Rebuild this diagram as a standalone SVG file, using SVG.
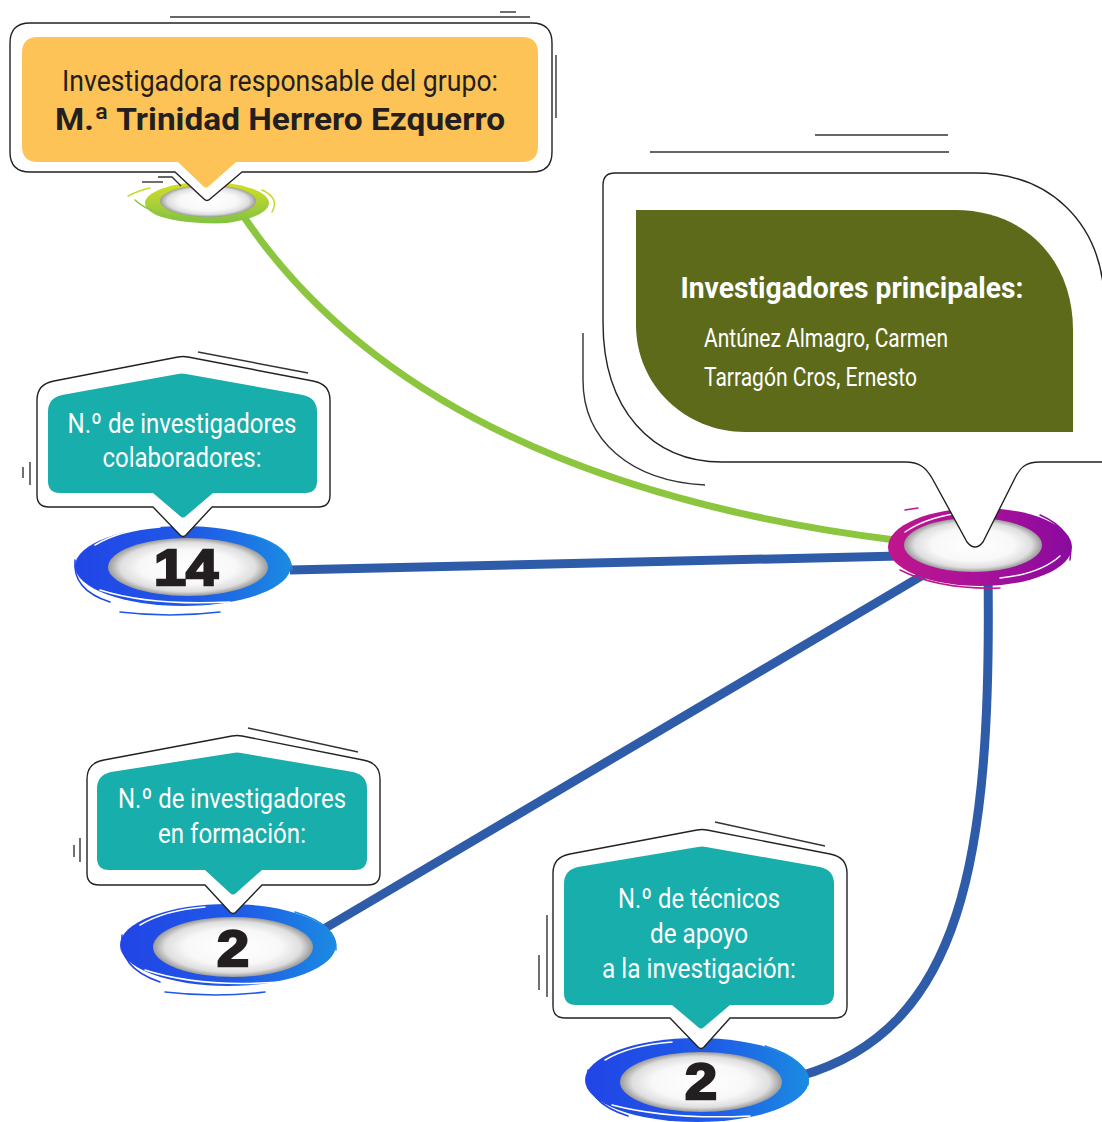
<svg xmlns="http://www.w3.org/2000/svg" width="1102" height="1122" viewBox="0 0 1102 1122">
<defs>
<radialGradient id="inner" cx="50%" cy="50%" r="50%">
<stop offset="0" stop-color="#ffffff"/>
<stop offset="0.6" stop-color="#f8f8f8"/>
<stop offset="0.85" stop-color="#dedede"/>
<stop offset="1" stop-color="#9a9a9a"/>
</radialGradient>
<linearGradient id="blue" x1="0" y1="0" x2="1" y2="0">
<stop offset="0" stop-color="#2145E6"/>
<stop offset="0.55" stop-color="#1F5AE6"/>
<stop offset="1" stop-color="#1B8BE2"/>
</linearGradient>
<linearGradient id="mag" x1="0" y1="0" x2="1" y2="0">
<stop offset="0" stop-color="#C0168C"/>
<stop offset="0.5" stop-color="#A8119A"/>
<stop offset="1" stop-color="#8A0A9E"/>
</linearGradient>
<linearGradient id="grn" x1="0" y1="0" x2="0" y2="1">
<stop offset="0" stop-color="#D6DF24"/>
<stop offset="0.6" stop-color="#A4CD3A"/>
<stop offset="1" stop-color="#7DC242"/>
</linearGradient>
</defs>
<style>
.outline{fill:#fff;stroke:#222;stroke-width:1.4;stroke-linejoin:round}
.deco{fill:none;stroke:#333;stroke-width:1.4}
.teal{fill:#17AEAB}
.t{font-family:Roboto,"Liberation Sans",sans-serif;font-weight:400;fill:#fff;text-anchor:middle}
.b{font-weight:bold}
.dark{fill:#231F20}
.num{font-family:"Liberation Sans",Arial,sans-serif;font-weight:bold;fill:#231F20;text-anchor:middle;stroke:#231F20;stroke-width:2.5}
.inner{fill:url(#inner)}
.wisp{fill:none;stroke-width:1.5;stroke-linecap:round}
.conn{fill:none;stroke-linecap:butt}
</style>

<g id="connectors">
<path class="conn" d="M 242 214 Q 420 480 895 540" stroke="#8CC63F" stroke-width="7"/>
<path class="conn" d="M 290 570 L 900 556" stroke="#2F5CA8" stroke-width="9"/>
<path class="conn" d="M 322 930 L 935 568" stroke="#2F5CA8" stroke-width="9"/>
<path class="conn" d="M 988 572 C 992 860 962 1030 800 1076" stroke="#2F5CA8" stroke-width="9"/>
</g>

<g id="node-responsable">
<g id="hub-green">
<ellipse cx="207" cy="203" rx="62" ry="21" fill="url(#grn)"/>
<path class="wisp" d="M 135 200 Q 150 215 200 222" stroke="#8CC63F"/>
<path class="wisp" d="M 128 196 Q 140 190 150 188" stroke="#C8D92B"/>
<path class="wisp" d="M 262 190 Q 280 198 272 212" stroke="#C8D92B"/>
<path class="wisp" d="M 150 214 Q 180 226 230 224" stroke="#fff" stroke-width="1"/>
<ellipse class="inner" cx="208" cy="201" rx="48" ry="16"/>
</g>
<line class="deco" x1="142" y1="182" x2="163" y2="182"/>
<polyline class="deco" points="158,177 172,177 181,186"/>
<line class="deco" x1="170" y1="17" x2="530" y2="17"/>
<line class="deco" x1="500" y1="12" x2="516" y2="12"/>
<line class="deco" x1="556" y1="55" x2="556" y2="118"/>
<path class="outline" d="M 30 23 H 532 Q 552 23 552 43 V 152 Q 552 172 532 172 H 242 L 210 199 Q 207 202 204 199 L 175 172 H 30 Q 10 172 10 152 V 43 Q 10 23 30 23 Z"/>
<path fill="#FEC356" d="M 38 37 H 522 Q 538 37 538 53 V 146 Q 538 162 522 162 H 236 L 209 186 Q 206 189 203 186 L 178 162 H 38 Q 22 162 22 146 V 53 Q 22 37 38 37 Z"/>
<text class="t dark" x="280" y="91" font-size="30" textLength="436" lengthAdjust="spacingAndGlyphs">Investigadora responsable del grupo:</text>
<text class="t dark b" x="280" y="130" font-size="32" textLength="450" lengthAdjust="spacingAndGlyphs">M.ª Trinidad Herrero Ezquerro</text>
</g>

<g id="node-principales">
<g id="hub-magenta">
<ellipse cx="980" cy="547" rx="92" ry="39" fill="url(#mag)"/>
<path class="wisp" d="M 1040 515 Q 1075 530 1070 560" stroke="#8A0A9E"/>
<path class="wisp" d="M 900 570 Q 940 590 1000 588" stroke="#C0168C"/>
<path class="wisp" d="M 905 532 Q 930 515 970 512" stroke="#fff" stroke-width="1"/>
<path class="wisp" d="M 1000 578 Q 1040 574 1060 556" stroke="#fff" stroke-width="1"/>
<path class="wisp" d="M 905 510 L 918 508" stroke="#C0168C"/>
<ellipse class="inner" cx="973" cy="545" rx="69" ry="27"/>
</g>
<line class="deco" x1="815" y1="135" x2="948" y2="135"/>
<line class="deco" x1="650" y1="152" x2="949" y2="152"/>
<path class="deco" d="M 583 333 V 380 C 583 440 630 481 705 485"/>
<path class="outline" d="M 615 173 H 975 C 1050 173 1098 222 1104 292 V 462 H 1040 C 1025 462 1020 468 1015 478 L 983 542 Q 975 552 967 542 L 932 478 C 926 468 920 462 905 462 H 722 C 652 462 603 410 603 322 V 185 Q 603 173 615 173 Z"/>
<path fill="#5D6A1A" d="M 636 210 H 955 C 1025 210 1073 260 1073 330 V 432 H 745 C 685 432 636 385 636 325 Z"/>
<text class="t b" x="852" y="298" font-size="30" textLength="343" lengthAdjust="spacingAndGlyphs">Investigadores principales:</text>
<text class="t" x="704" y="347" font-size="25" style="text-anchor:start" textLength="244" lengthAdjust="spacingAndGlyphs">Antúnez Almagro, Carmen</text>
<text class="t" x="704" y="386" font-size="25" style="text-anchor:start" textLength="213" lengthAdjust="spacingAndGlyphs">Tarragón Cros, Ernesto</text>
</g>

<g id="node-colaboradores">
<g id="hub-14">
<ellipse cx="183" cy="566" rx="108" ry="40" fill="url(#blue)"/>
<path class="wisp" d="M 75 560 Q 72 590 110 602" stroke="#2145E6"/>
<path class="wisp" d="M 250 535 Q 290 545 292 570" stroke="#1B8BE2"/>
<path class="wisp" d="M 100 590 Q 150 606 230 602" stroke="#fff" stroke-width="1"/>
<path class="wisp" d="M 95 545 Q 120 530 160 527" stroke="#fff" stroke-width="1"/>
<path class="wisp" d="M 120 612 Q 170 618 220 612" stroke="#1F5AE6"/>
<ellipse class="inner" cx="188" cy="567" rx="80" ry="29"/>
<text class="num" x="186" y="585" font-size="50" textLength="64" lengthAdjust="spacingAndGlyphs">14</text>
</g>
<line class="deco" x1="198" y1="352" x2="308" y2="373"/>
<line class="deco" x1="23" y1="467" x2="23" y2="478"/>
<line class="deco" x1="30" y1="462" x2="30" y2="485"/>
<path class="outline" d="M 37 400 Q 37 384 54 381 L 178 357 Q 183 356 188 357 L 313 381 Q 330 384 330 400 V 495 Q 330 507 318 507 H 212 L 186 535 Q 183 538 180 535 L 153 507 H 49 Q 37 507 37 495 Z"/>
<path class="teal" d="M 48 412 Q 48 398 62 395 L 178 374 Q 182 373 186 374 L 303 395 Q 317 398 317 412 V 481 Q 317 493 305 493 H 213 L 186 516 Q 183 519 180 516 L 153 493 H 60 Q 48 493 48 481 Z"/>
<text class="t" x="182" y="433" font-size="28" textLength="229" lengthAdjust="spacingAndGlyphs">N.º de investigadores</text>
<text class="t" x="182" y="467" font-size="28" textLength="159" lengthAdjust="spacingAndGlyphs">colaboradores:</text>
</g>

<g id="node-formacion">
<g id="hub-2a">
<ellipse cx="228" cy="945" rx="108" ry="41" fill="url(#blue)"/>
<path class="wisp" d="M 122 935 Q 118 968 160 982" stroke="#2145E6"/>
<path class="wisp" d="M 295 912 Q 338 925 336 950" stroke="#1B8BE2"/>
<path class="wisp" d="M 145 970 Q 200 988 280 982" stroke="#fff" stroke-width="1"/>
<path class="wisp" d="M 140 925 Q 165 910 205 907" stroke="#fff" stroke-width="1"/>
<path class="wisp" d="M 165 992 Q 215 998 265 992" stroke="#1F5AE6"/>
<ellipse class="inner" cx="233" cy="947" rx="80" ry="30"/>
<text class="num" x="233" y="966" font-size="50" textLength="32" lengthAdjust="spacingAndGlyphs">2</text>
</g>
<line class="deco" x1="248" y1="728" x2="358" y2="752"/>
<line class="deco" x1="74" y1="845" x2="74" y2="857"/>
<line class="deco" x1="80" y1="838" x2="80" y2="862"/>
<path class="outline" d="M 87 779 Q 87 763 104 760 L 232 736 Q 237 735 242 736 L 363 760 Q 380 763 380 779 V 873 Q 380 885 368 885 H 262 L 236 912 Q 233 915 230 912 L 205 885 H 99 Q 87 885 87 873 Z"/>
<path class="teal" d="M 97 789 Q 97 775 111 772 L 233 753 Q 237 752 241 753 L 353 772 Q 367 775 367 789 V 858 Q 367 870 355 870 H 262 L 236 893 Q 233 896 230 893 L 205 870 H 109 Q 97 870 97 858 Z"/>
<text class="t" x="232" y="808" font-size="28" textLength="228" lengthAdjust="spacingAndGlyphs">N.º de investigadores</text>
<text class="t" x="232" y="843" font-size="28" textLength="148" lengthAdjust="spacingAndGlyphs">en formación:</text>
</g>

<g id="node-tecnicos">
<g id="hub-2b">
<ellipse cx="697" cy="1080" rx="112" ry="42" fill="url(#blue)"/>
<path class="wisp" d="M 588 1070 Q 584 1102 628 1116" stroke="#2145E6"/>
<path class="wisp" d="M 765 1046 Q 810 1060 808 1085" stroke="#1B8BE2"/>
<path class="wisp" d="M 612 1105 Q 670 1120 750 1116" stroke="#fff" stroke-width="1"/>
<path class="wisp" d="M 605 1060 Q 630 1045 672 1042" stroke="#fff" stroke-width="1"/>
<ellipse class="inner" cx="701" cy="1082" rx="81" ry="30"/>
<text class="num" x="701" y="1099" font-size="50" textLength="32" lengthAdjust="spacingAndGlyphs">2</text>
</g>
<line class="deco" x1="715" y1="822" x2="825" y2="846"/>
<line class="deco" x1="539" y1="955" x2="539" y2="990"/>
<line class="deco" x1="547" y1="915" x2="547" y2="997"/>
<path class="outline" d="M 553 873 Q 553 857 570 854 L 697 830 Q 702 829 707 830 L 830 854 Q 847 857 847 873 V 1006 Q 847 1018 835 1018 H 730 L 704 1047 Q 701 1050 698 1047 L 670 1018 H 565 Q 553 1018 553 1006 Z"/>
<path class="teal" d="M 564 884 Q 564 870 578 867 L 698 847 Q 702 846 706 847 L 820 867 Q 834 870 834 884 V 993 Q 834 1005 822 1005 H 730 L 704 1027 Q 701 1030 698 1027 L 672 1005 H 576 Q 564 1005 564 993 Z"/>
<text class="t" x="699" y="908" font-size="28" textLength="162" lengthAdjust="spacingAndGlyphs">N.º de técnicos</text>
<text class="t" x="699" y="943" font-size="28" textLength="98" lengthAdjust="spacingAndGlyphs">de apoyo</text>
<text class="t" x="699" y="978" font-size="28" textLength="194" lengthAdjust="spacingAndGlyphs">a la investigación:</text>
</g>
</svg>
